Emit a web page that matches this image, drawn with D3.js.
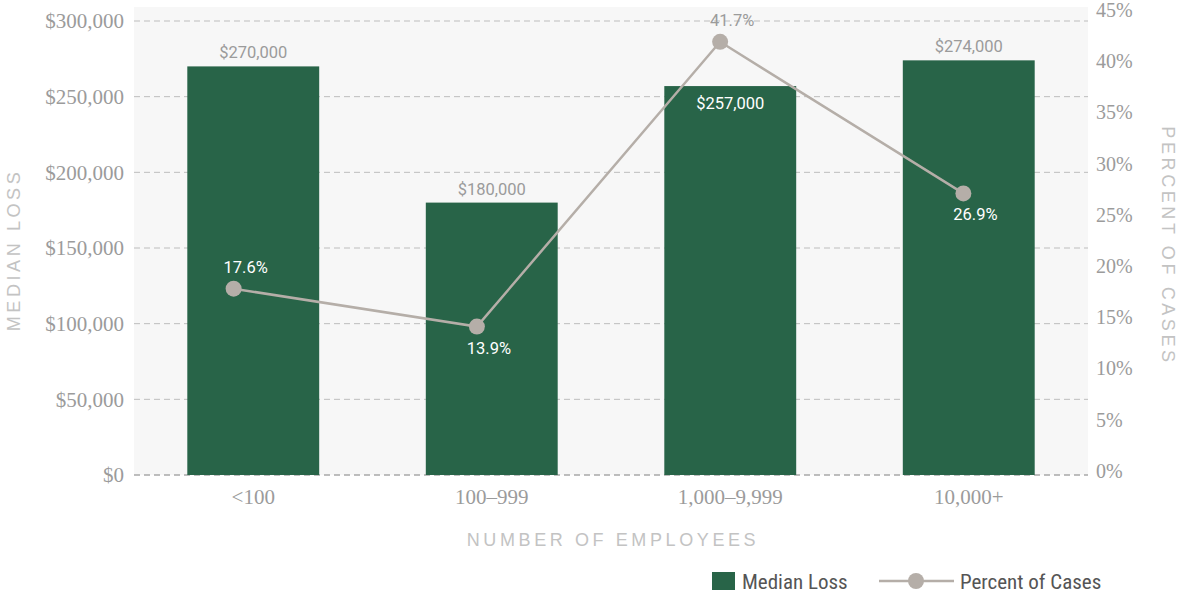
<!DOCTYPE html>
<html>
<head>
<meta charset="utf-8">
<script src="https://cdnjs.cloudflare.com/ajax/libs/d3/7.8.5/d3.min.js"></script>
<style>
  html, body { margin: 0; padding: 0; background: #ffffff; }
  svg { display: block; }
</style>
</head>
<body>
<svg id="chart" width="1179" height="593"></svg>
<script>
// Median loss and share of cases by organisation size
const categories = ["<100", "100\u2013999", "1,000\u20139,999", "10,000+"];
const medianLoss = [270000, 180000, 257000, 274000];
const percentCases = [17.6, 13.9, 41.7, 26.9];
const lossTicks = [0, 50000, 100000, 150000, 200000, 250000, 300000];
const pctTicks = [0, 5, 10, 15, 20, 25, 30, 35, 40, 45];
// where each value label sits relative to its mark
const lossLabelPlacement = ["outside", "outside", "inside", "outside"];
const pctLabelPlacement = ["above", "below", "above", "below"];

const GREEN = "#286448";
const LINE = "#b5aea8";
const AXIS_TEXT = "#9b9b9b";
const TITLE_TEXT = "#c3c3c3";
const SERIF = "'Liberation Serif', 'DejaVu Serif', serif";
const SANS = "Roboto, 'Liberation Sans', sans-serif";
const NARROW = "'Liberation Sans Narrow', 'Roboto Condensed', Roboto, sans-serif";

const svg = d3.select("#chart");
const plot = { left: 134, right: 1088, top: 7, bottom: 475 };

const x = d3.scaleBand()
  .domain(categories)
  .range([plot.left, plot.right])
  .paddingInner(0.447)
  .paddingOuter(0.2235);

// secondary category axis used by the line series
const xLine = d3.scaleBand()
  .domain(categories)
  .range([112, 1085]);

const yLoss = d3.scaleLinear().domain([0, 300000]).range([475, 21]);
const yPct = d3.scaleLinear().domain([0, 45]).range([469, 8]);

// plot background
svg.append("rect")
  .attr("x", plot.left).attr("y", plot.top)
  .attr("width", plot.right - plot.left)
  .attr("height", plot.bottom - plot.top)
  .attr("fill", "#f7f7f7");

// horizontal gridlines
svg.append("g")
  .selectAll("line")
  .data(lossTicks)
  .join("line")
  .attr("x1", plot.left).attr("x2", plot.right)
  .attr("y1", d => yLoss(d)).attr("y2", d => yLoss(d))
  .attr("stroke", d => d === 0 ? "#a9a9a9" : "#bdbdbd")
  .attr("stroke-width", d => d === 0 ? 1.5 : 1)
  .attr("stroke-dasharray", "6,4");

// left axis
const fmtLoss = d => "$" + d3.format(",")(d);
const leftAxis = svg.append("g")
  .attr("transform", `translate(${plot.left - 10},0)`)
  .call(d3.axisLeft(yLoss).tickValues(lossTicks).tickFormat(fmtLoss).tickSize(0).tickPadding(0));
leftAxis.select(".domain").remove();
leftAxis.selectAll("text")
  .attr("fill", AXIS_TEXT)
  .style("font-family", SERIF)
  .style("font-size", "21px");

// right axis
const rightAxis = svg.append("g")
  .attr("transform", `translate(${plot.right + 8},0)`)
  .call(d3.axisRight(yPct).tickValues(pctTicks).tickFormat(d => d + "%").tickSize(0).tickPadding(0));
rightAxis.select(".domain").remove();
rightAxis.selectAll("text")
  .attr("fill", AXIS_TEXT)
  .attr("dy", "0.42em")
  .style("font-family", SERIF)
  .style("font-size", "20px");

// category axis
const bottomAxis = svg.append("g")
  .attr("transform", `translate(0,${plot.bottom})`)
  .call(d3.axisBottom(x).tickSize(0).tickPadding(14));
bottomAxis.select(".domain").remove();
bottomAxis.selectAll("text")
  .attr("fill", AXIS_TEXT)
  .style("font-family", SERIF)
  .style("font-size", "21px");

// axis titles
const titleStyle = sel => sel
  .attr("fill", TITLE_TEXT)
  .attr("text-anchor", "middle")
  .style("font-family", "'Liberation Sans', sans-serif")
  .style("font-size", "18px")
  .style("letter-spacing", "3.6px");

svg.append("text")
  .attr("x", (plot.left + plot.right) / 2 + 2)
  .attr("y", 546)
  .text("NUMBER OF EMPLOYEES")
  .call(titleStyle);

svg.append("text")
  .attr("transform", `translate(20,${(yLoss(0) + yLoss(300000)) / 2 + 2}) rotate(-90)`)
  .text("MEDIAN LOSS")
  .call(titleStyle);

svg.append("text")
  .attr("transform", `translate(1162,${(yLoss(0) + yLoss(300000)) / 2 - 2}) rotate(90)`)
  .text("PERCENT OF CASES")
  .call(titleStyle);

// bars
const rows = categories.map((c, i) => ({
  cat: c, loss: medianLoss[i], pct: percentCases[i],
  lossPos: lossLabelPlacement[i], pctPos: pctLabelPlacement[i]
}));

svg.append("g")
  .selectAll("rect")
  .data(rows)
  .join("rect")
  .attr("x", d => x(d.cat))
  .attr("y", d => yLoss(d.loss))
  .attr("width", x.bandwidth())
  .attr("height", d => yLoss(0) - yLoss(d.loss))
  .attr("fill", GREEN);

// bar value labels
svg.append("g")
  .selectAll("text")
  .data(rows)
  .join("text")
  .attr("x", d => x(d.cat) + x.bandwidth() / 2)
  .attr("y", d => d.lossPos === "inside" ? yLoss(d.loss) + 23 : yLoss(d.loss) - 8)
  .attr("text-anchor", "middle")
  .attr("fill", d => d.lossPos === "inside" ? "#ffffff" : AXIS_TEXT)
  .style("font-family", SANS)
  .style("font-size", "16.5px")
  .text(d => fmtLoss(d.loss));

// percent line
const lineGen = d3.line()
  .x(d => xLine(d.cat) + xLine.bandwidth() / 2)
  .y(d => yPct(d.pct));

svg.append("path")
  .datum(rows)
  .attr("d", lineGen)
  .attr("fill", "none")
  .attr("stroke", LINE)
  .attr("stroke-width", 2.5);

svg.append("g")
  .selectAll("circle")
  .data(rows)
  .join("circle")
  .attr("cx", d => xLine(d.cat) + xLine.bandwidth() / 2)
  .attr("cy", d => yPct(d.pct))
  .attr("r", 8)
  .attr("fill", LINE);

// percent labels: white where they sit on a bar
svg.append("g")
  .selectAll("text")
  .data(rows)
  .join("text")
  .each(function (d) {
    const ly = d.pctPos === "above" ? yPct(d.pct) - 16 : yPct(d.pct) + 27;
    d3.select(this)
      .attr("x", xLine(d.cat) + xLine.bandwidth() / 2 + 12)
      .attr("y", ly)
      .attr("fill", ly - 6 > yLoss(d.loss) ? "#ffffff" : AXIS_TEXT);
  })
  .attr("text-anchor", "middle")
  .style("font-family", SANS)
  .style("font-size", "16.5px")
  .text(d => d.pct.toFixed(1) + "%");

// legend
const legend = svg.append("g");
legend.append("rect")
  .attr("x", 712).attr("y", 572)
  .attr("width", 23).attr("height", 18)
  .attr("fill", GREEN);
legend.append("text")
  .attr("x", 742).attr("y", 581).attr("dy", "0.36em")
  .attr("fill", "#555555")
  .style("font-family", NARROW)
  .style("font-size", "21px")
  .text("Median Loss");
legend.append("line")
  .attr("x1", 879).attr("x2", 954)
  .attr("y1", 581).attr("y2", 581)
  .attr("stroke", LINE).attr("stroke-width", 2.5);
legend.append("circle")
  .attr("cx", 916).attr("cy", 581).attr("r", 8)
  .attr("fill", LINE);
legend.append("text")
  .attr("x", 960).attr("y", 581).attr("dy", "0.36em")
  .attr("fill", "#555555")
  .style("font-family", NARROW)
  .style("font-size", "21px")
  .text("Percent of Cases");
</script>
</body>
</html>
